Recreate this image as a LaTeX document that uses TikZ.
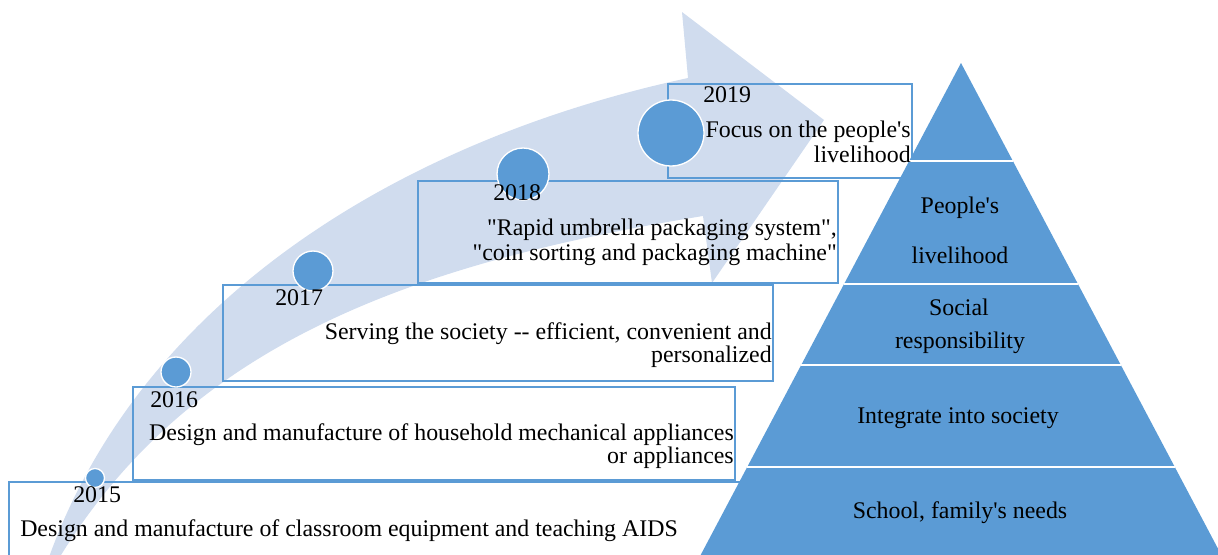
\documentclass[tikz,border=0pt]{standalone}
\usepackage{fontspec}
\setmainfont{Liberation Serif}[Ligatures=TeXOff]
\definecolor{bandfill}{RGB}{208,220,238}
\definecolor{accent}{RGB}{91,155,213}
\begin{document}
\begin{tikzpicture}[x=0.75pt,y=-0.75pt,
  txt/.style={inner sep=0pt, font=\fontsize{17.9pt}{17.9pt}\selectfont},
  yearbox/.style={draw=accent, line width=0.9pt},
  dot/.style={circle, fill=accent, draw=white, line width=1pt, inner sep=0pt},
  layerline/.style={draw=white, line width=1.5pt}]
\useasboundingbox (0,0) rectangle (1218,554);
\clip (0,0) rectangle (1218,554);

% curved progress arrow
\fill[bandfill] (48,560) .. controls (140,300) and (400,140) .. (688,78)
  -- (682,12) -- (824,120) -- (712,283) -- (703,216)
  .. controls (400,265) and (185,350) .. (58,560) -- cycle;

% milestone boxes
\draw[yearbox] (9,482) rectangle (745,600);
\draw[yearbox] (133,387) rectangle (735,480);
\draw[yearbox] (223,285) rectangle (773,381);
\draw[yearbox] (418,181) rectangle (838,283);
\draw[yearbox] (668,84) rectangle (912,178);

% milestone dots
\node[dot, minimum size=14.25pt] (d15) at (95,478) {};
\node[dot, minimum size=22.5pt]  (d16) at (176,372) {};
\node[dot, minimum size=30pt]    (d17) at (313,271) {};
\node[dot, minimum size=39pt]    (d18) at (523,174) {};
\node[dot, minimum size=49.5pt]  (d19) at (671,133) {};

% years
\node[txt, anchor=base west] (y15) at (73,502) {2015};
\node[txt, anchor=base west] (y16) at (150,407) {2016};
\node[txt, anchor=base west] (y17) at (275,305) {2017};
\node[txt, anchor=base west] (y18) at (493,200) {2018};
\node[txt, anchor=base west] (y19) at (703,102) {2019};

% milestone descriptions
\node[txt, anchor=base west] (t15) at (20,536) {Design and manufacture of classroom equipment and teaching AIDS};
\node[txt, anchor=base east] (t16a) at (734,440) {Design and manufacture of household mechanical appliances};
\node[txt, anchor=base east] (t16b) at (734,463) {or appliances};
\node[txt, anchor=base east] (t17a) at (772,339) {Serving the society -- efficient, convenient and};
\node[txt, anchor=base east] (t17b) at (772,362) {personalized};
\node[txt, anchor=base east] (t18a) at (837,235) {"Rapid umbrella packaging system",};
\node[txt, anchor=base east] (t18b) at (837,260) {"coin sorting and packaging machine"};

% pyramid of goals
\fill[accent] (961,63) -- (1224,560) -- (698,560) -- cycle;
\draw[layerline] (909,161) -- (1013,161);
\draw[layerline] (844,284) -- (1078,284);
\draw[layerline] (801,365) -- (1121,365);
\draw[layerline] (747,467) -- (1175,467);

\node[txt, anchor=base east] (t19a) at (911,137) {Focus on the people's};
\node[txt, anchor=base east] (t19b) at (911,162) {livelihood};

\node[txt, anchor=base] (p1a) at (960,213) {People's};
\node[txt, anchor=base] (p1b) at (960,263) {livelihood};
\node[txt, anchor=base] (p2a) at (959,315) {Social};
\node[txt, anchor=base] (p2b) at (960,348) {responsibility};
\node[txt, anchor=base] (p3)  at (958,423) {Integrate into society};
\node[txt, anchor=base] (p4)  at (960,518) {School, family's needs};
\end{tikzpicture}
\end{document}
